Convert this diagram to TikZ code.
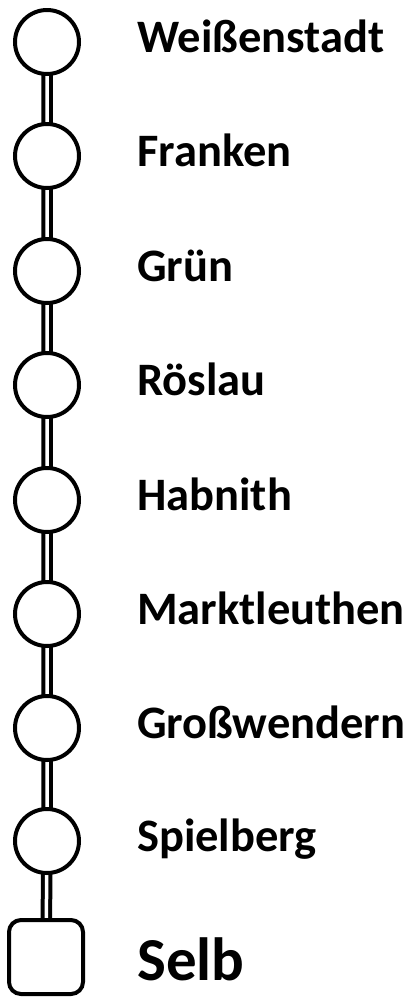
\documentclass[tikz,border=0pt]{standalone}
\usepackage{fontspec}
\setmainfont{Carlito}
\begin{document}
\begin{tikzpicture}[x=1pt,y=-1pt,
  stop/.style={draw=black,line width=4pt,circle,minimum size=64pt,inner sep=0pt,fill=white},
  endstop/.style={draw=black,line width=4pt,rectangle,rounded corners=12pt,minimum size=74pt,inner sep=0pt,fill=white},
  rail/.style={draw=black,double=white,line width=4pt,double distance=3.5pt},
  lbl/.style={anchor=base west,inner sep=0pt,font=\fontsize{46.5}{56}\selectfont\bfseries},
  biglbl/.style={anchor=base west,inner sep=0pt,font=\fontsize{61}{72}\selectfont\bfseries}]
\useasboundingbox (0,0) rectangle (416,997);
\coordinate (c0) at (47,42);
\coordinate (c1) at (47,156);
\coordinate (c2) at (47,271);
\coordinate (c3) at (47,385);
\coordinate (c4) at (47,500);
\coordinate (c5) at (47,614);
\coordinate (c6) at (47,728);
\coordinate (c7) at (47,841);
\coordinate (c8) at (46,957);
\draw[rail] (c0) -- (c1) -- (c2) -- (c3) -- (c4) -- (c5) -- (c6) -- (c7) -- (c8);
\node[stop] (s0) at (c0) {};
\node[stop] (s1) at (c1) {};
\node[stop] (s2) at (c2) {};
\node[stop] (s3) at (c3) {};
\node[stop] (s4) at (c4) {};
\node[stop] (s5) at (c5) {};
\node[stop] (s6) at (c6) {};
\node[stop] (s7) at (c7) {};
\node[endstop] (s8) at (c8) {};
\node[lbl] (l0) at (137,52) {Weißenstadt};
\node[lbl] (l1) at (137,166) {Franken};
\node[lbl] (l2) at (137,281) {Grün};
\node[lbl] (l3) at (137,395) {Röslau};
\node[lbl] (l4) at (137,510) {Habnith};
\node[lbl] (l5) at (137,624) {Marktleuthen};
\node[lbl] (l6) at (137,738) {Großwendern};
\node[lbl] (l7) at (137,851) {Spielberg};
\node[biglbl] (l8) at (137,980) {Selb};
\end{tikzpicture}
\end{document}
